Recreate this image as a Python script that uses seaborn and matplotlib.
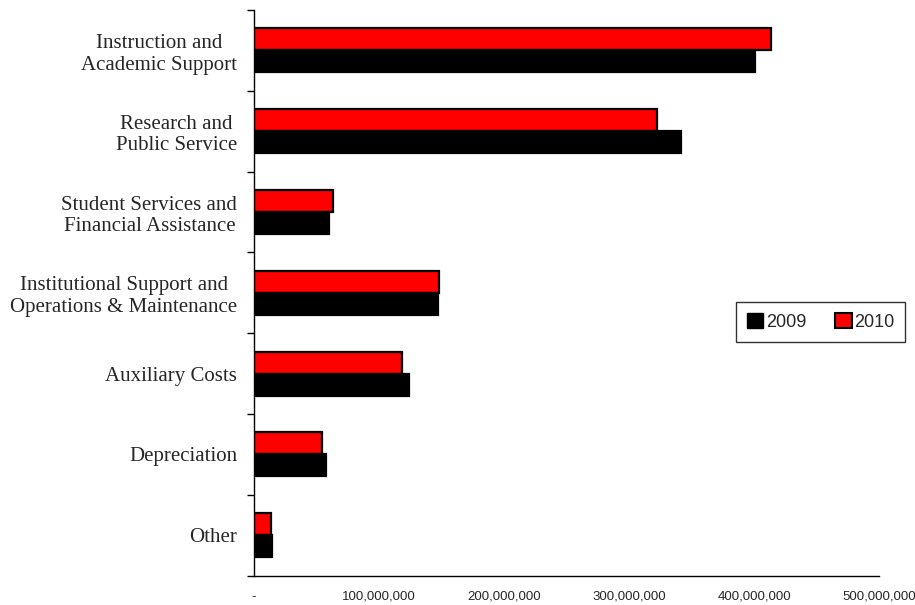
import matplotlib
matplotlib.use("Agg")
import matplotlib.pyplot as plt
from matplotlib.patches import Patch
from matplotlib.ticker import FuncFormatter, FixedLocator
import numpy as np
import pandas as pd
import seaborn as sns

categories = ["Instruction and\nAcademic Support",
              "Research and\nPublic Service",
              "Student Services and\nFinancial Assistance",
              "Institutional Support and\nOperations & Maintenance",
              "Auxiliary Costs",
              "Depreciation",
              "Other"]
values_2009 = [400.8e6, 341.6e6, 60.0e6, 147.2e6, 124.0e6, 57.6e6, 14.0e6]
values_2010 = [413.6e6, 322.4e6, 63.2e6, 148.0e6, 118.4e6, 54.4e6, 13.6e6]
years = ["2009", "2010"]
xticks = [0, 100e6, 200e6, 300e6, 400e6, 500e6]

df = pd.DataFrame({
    "category": categories * 2,
    "year": ["2009"] * len(categories) + ["2010"] * len(categories),
    "value": values_2009 + values_2010,
})

sns.set_style("white")
fig = plt.figure(figsize=(9.15, 6.05), dpi=100)
ax = fig.add_axes([0.2776, 0.0485, 0.9607 - 0.2776, 0.9835 - 0.0485])

palette = {"2009": "black", "2010": "#ff0000"}
sns.barplot(data=df, y="category", x="value", hue="year", hue_order=["2010", "2009"],
            order=categories, palette=palette, orient="h", width=0.545,
            edgecolor="black", linewidth=1.6, saturation=1, legend=False, ax=ax)

ax.set_xlim(0, 500e6)
ax.set_ylim(len(categories) - 0.5, -0.5)
ax.set_xlabel("")
ax.set_ylabel("")

def fmt(v, pos):
    if v == 0:
        return "-"
    return f"{int(v):,}"

ax.xaxis.set_major_locator(FixedLocator(xticks))
ax.xaxis.set_major_formatter(FuncFormatter(fmt))
ax.tick_params(axis="x", which="major", direction="out", length=5, width=1,
               color="black", pad=6, labelsize=9.5)
for lab in ax.get_xticklabels():
    lab.set_family("Liberation Sans")

ax.yaxis.set_minor_locator(FixedLocator(np.arange(len(categories) + 1) - 0.5))
ax.tick_params(axis="y", which="major", length=0, pad=12)
ax.tick_params(axis="y", which="minor", direction="out", length=5, width=1,
               color="black", left=True)
for lab in ax.get_yticklabels():
    lab.set_family("Liberation Serif")
    lab.set_fontsize(15)
    lab.set_multialignment("center")
    lab.set_linespacing(1.2)

sns.despine(ax=ax, top=True, right=True)
ax.spines["left"].set_color("black")
ax.spines["bottom"].set_color("black")
ax.spines["left"].set_linewidth(1)
ax.spines["bottom"].set_linewidth(1)

handles = [Patch(facecolor="black", edgecolor="black", label="2009"),
           Patch(facecolor="#ff0000", edgecolor="black", linewidth=1.5, label="2010")]
leg = fig.legend(handles=handles, loc="center", bbox_to_anchor=(0.897, 0.468),
                 ncol=2, frameon=True, fancybox=False, handlelength=0.9,
                 handleheight=0.9, handletextpad=0.15, columnspacing=1.6,
                 borderpad=0.6, prop={"family": "Liberation Sans", "size": 13})
leg.get_frame().set_edgecolor("black")
leg.get_frame().set_linewidth(1)

fig.savefig("out.png", dpi=100)
